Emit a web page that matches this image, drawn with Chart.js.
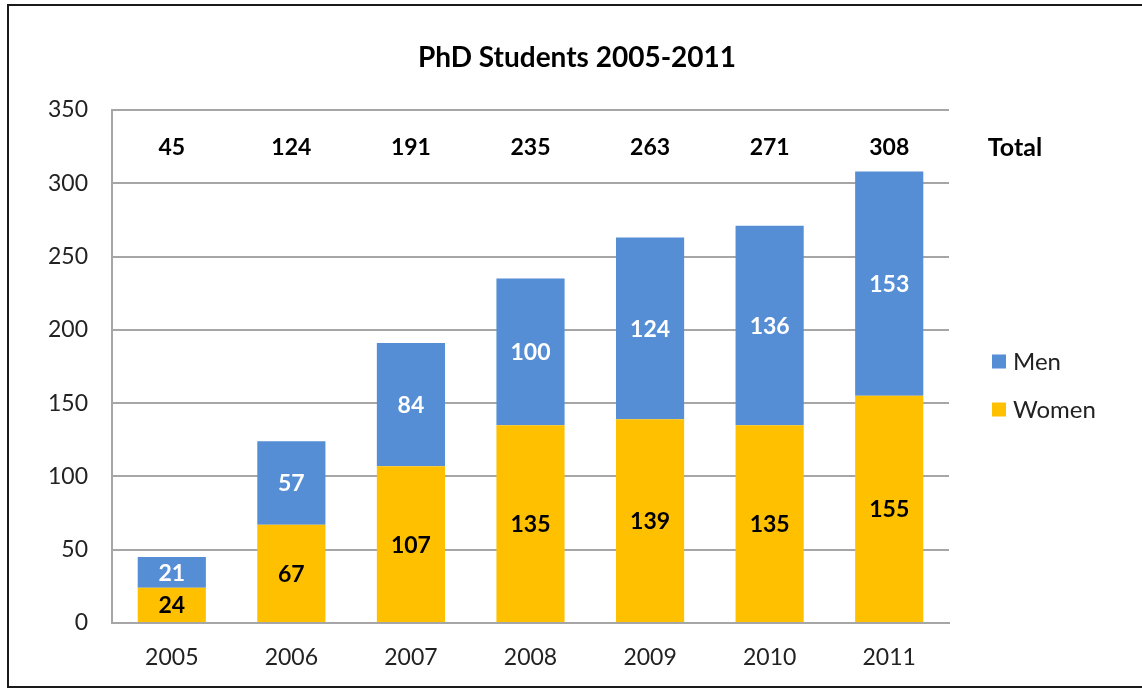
<!DOCTYPE html>
<html lang="en">
<head>
    <meta charset="UTF-8">
    <title>PhD Students 2005-2011</title>
    <script src="https://cdn.jsdelivr.net/npm/chart.js"></script>
    <style>
        html, body { margin: 0; padding: 0; background: #fff; overflow: hidden; }
        /* moldura preta em volta do gráfico (lado direito fica fora da janela) */
        .frame {
            position: absolute; left: 7px; top: 4px;
            width: 1200px; height: 680px;
            border: 2px solid #1a1a1a;
        }
        .wrap { position: absolute; left: 0; top: 0; width: 1142px; height: 688px; }
    </style>
</head>
<body>
    <div class="frame"></div>
    <div class="wrap"><canvas id="phdChart" width="1142" height="688"></canvas></div>

    <script>
        // dados
        const years = ['2005', '2006', '2007', '2008', '2009', '2010', '2011'];
        const women = [24, 67, 107, 135, 139, 135, 155];
        const men = [21, 57, 84, 100, 124, 136, 153];
        const totals = [45, 124, 191, 235, 263, 271, 308];
        const chartTitle = 'PhD Students 2005-2011';

        const FONT = 'Lato, "Open Sans", sans-serif';

        // título, rótulos dentro das barras, totais no topo e legenda à direita
        const labelsPlugin = {
            id: 'phdLabels',
            afterDatasetsDraw(chart) {
                const { ctx, chartArea, scales } = chart;
                const y = scales.y;
                ctx.save();
                ctx.textAlign = 'center';
                ctx.textBaseline = 'middle';

                // título centrado na moldura
                ctx.fillStyle = '#000';
                ctx.font = 'bold 28px ' + FONT;
                ctx.fillText(chartTitle, chart.width / 2 + 6, 58);

                ctx.font = 'bold 23px ' + FONT;
                chart.data.datasets.forEach((ds, i) => {
                    const meta = chart.getDatasetMeta(i);
                    ctx.fillStyle = ds.labelColor;
                    meta.data.forEach((bar, j) => {
                        ctx.fillText(ds.data[j], bar.x, (bar.y + bar.base) / 2 + 1);
                    });
                });

                // totais entre as duas últimas linhas de grade
                const step = y.options.ticks.stepSize;
                const yTot = (y.getPixelForValue(y.max) + y.getPixelForValue(y.max - step)) / 2 + 1;
                ctx.fillStyle = '#000';
                const first = chart.getDatasetMeta(0);
                totals.forEach((t, j) => {
                    ctx.fillText(t, first.data[j].x, yTot);
                });
                ctx.font = 'bold 25px ' + FONT;
                ctx.fillText('Total', chartArea.right + 66, yTot);

                // legenda
                const mid = (chartArea.top + chartArea.bottom) / 2;
                const items = [chart.data.datasets[1], chart.data.datasets[0]];
                ctx.textAlign = 'left';
                ctx.font = '24px ' + FONT;
                items.forEach((ds, k) => {
                    const cy = mid - 5 + k * 48;
                    ctx.fillStyle = ds.backgroundColor;
                    ctx.fillRect(chartArea.right + 43, cy - 7, 14, 14);
                    ctx.fillStyle = '#222';
                    ctx.fillText(ds.label, chartArea.right + 64, cy + 1);
                });
                ctx.restore();
            }
        };

        const ctx = document.getElementById('phdChart').getContext('2d');
        new Chart(ctx, {
            type: 'bar',
            data: {
                labels: years,
                datasets: [
                    {
                        label: 'Women',
                        data: women,
                        backgroundColor: '#FFC000',
                        labelColor: '#000',
                        barPercentage: 0.57,
                        categoryPercentage: 1.0
                    },
                    {
                        label: 'Men',
                        data: men,
                        backgroundColor: '#558ED5',
                        labelColor: '#fff',
                        barPercentage: 0.57,
                        categoryPercentage: 1.0
                    }
                ]
            },
            options: {
                responsive: false,
                animation: false,
                layout: { padding: { left: 0, right: 193, top: 110, bottom: 0 } },
                plugins: {
                    legend: { display: false },
                    tooltip: { enabled: false },
                    title: { display: false }
                },
                scales: {
                    x: {
                        stacked: true,
                        grid: { display: false, drawTicks: false },
                        border: { color: '#a6a6a6', width: 2 },
                        ticks: { color: '#222', font: { family: FONT, size: 23 }, padding: 21 },
                        afterFit: s => { s.height = 65; }
                    },
                    y: {
                        stacked: true,
                        min: 0,
                        max: 350,
                        ticks: { stepSize: 50, color: '#222', font: { family: FONT, size: 23 }, padding: 24 },
                        grid: { color: '#a6a6a6', lineWidth: 2, drawTicks: false },
                        border: { color: '#a6a6a6', width: 2 },
                        afterFit: s => { s.width = 112; }
                    }
                }
            },
            plugins: [labelsPlugin]
        });
    </script>
</body>
</html>
